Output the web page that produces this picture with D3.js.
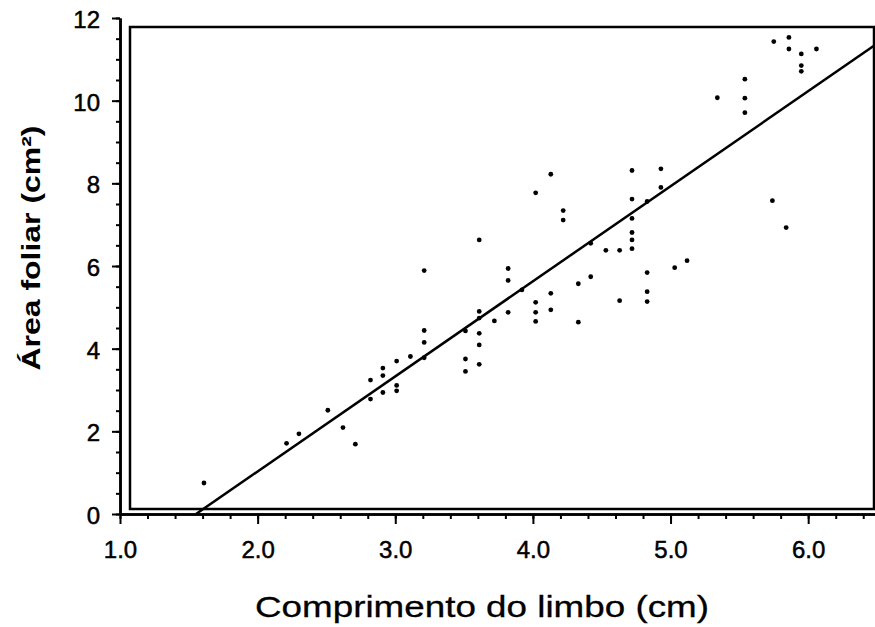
<!DOCTYPE html>
<html>
<head>
<meta charset="utf-8">
<script src="https://cdn.jsdelivr.net/npm/d3@7"></script>
<style>
  body { margin: 0; background: #fff; }
  text { font-family: "Liberation Sans", Arial, Helvetica, sans-serif; fill: #000; }
</style>
</head>
<body>
<div id="chart"></div>
<script>
const w = 875;
const h = 627;

// leaf length (cm) and leaf area (cm2)
const comprimento = [1.61, 2.21, 2.30, 2.51, 2.62, 2.71, 2.82, 2.82, 2.91, 2.91, 2.91, 3.01, 3.01, 3.01, 3.11,
    3.21, 3.21, 3.21, 3.21, 3.51, 3.51, 3.51, 3.61, 3.61, 3.61, 3.61, 3.61, 3.61, 3.72, 3.82, 3.82, 3.82,
    3.92, 4.02, 4.02, 4.02, 4.02, 4.13, 4.13, 4.13, 4.22, 4.22, 4.33, 4.33, 4.42, 4.42, 4.53, 4.63, 4.63,
    4.72, 4.72, 4.72, 4.72, 4.72, 4.72, 4.83, 4.83, 4.83, 4.83, 4.93, 4.93, 5.03, 5.12,
    5.34, 5.54, 5.54, 5.54, 5.74, 5.84, 5.75, 5.86, 5.86, 5.95, 5.95, 5.95, 6.06];
const area = [0.75, 1.71, 1.94, 2.51, 2.09, 1.69, 3.24, 2.78, 3.53, 3.35, 2.94, 3.70, 3.11, 2.98, 3.81,
    5.89, 4.44, 4.15, 3.78, 4.43, 3.75, 3.45, 6.63, 4.90, 4.74, 4.37, 4.09, 3.62, 4.67, 5.94, 5.65, 4.88,
    5.42, 7.77, 5.12, 4.88, 4.66, 8.22, 5.34, 4.94, 7.34, 7.11, 5.57, 4.64, 6.55, 5.74, 6.38, 6.38, 5.16,
    8.31, 7.62, 7.15, 6.81, 6.63, 6.42, 7.56, 5.84, 5.38, 5.14, 8.35, 7.90, 5.96, 6.13,
    10.07, 10.52, 10.06, 9.71, 7.58, 6.93, 11.43, 11.53, 11.25, 11.13, 10.85, 10.71, 11.25];

// fitted line: area = slope * comprimento + intercept
const slope = 2.30;
const intercept = -3.57;

const xTicks = [1, 2, 3, 4, 5, 6];
const yTicks = [0, 2, 4, 6, 8, 10, 12];

const pts = comprimento.map((c, i) => ({ x: c, y: area[i] }));

let svg = d3.select("#chart")
    .append("svg")
    .attr("width", w)
    .attr("height", h);

const xScale = d3.scaleLinear()
    .domain([1, 6.5])
    .range([120, 877]);

const yScale = d3.scaleLinear()
    .domain([0, 12])
    .range([514, 18]);

// inner frame
svg.append("rect")
    .attr("x", 130)
    .attr("y", 27)
    .attr("width", 744)
    .attr("height", 482)
    .attr("fill", "none")
    .attr("stroke", "#000")
    .attr("stroke-width", 2.5);

// minor ticks
svg.append("g")
    .attr("class", "axis")
    .attr("transform", "translate(0," + yScale(0) + ")")
    .call(d3.axisBottom(xScale).tickValues(d3.range(1, 6.5, 0.2)).tickSize(5).tickSizeOuter(0).tickFormat(""));

svg.append("g")
    .attr("class", "axis")
    .attr("transform", "translate(" + xScale(1) + ",0)")
    .call(d3.axisLeft(yScale).tickValues(d3.range(0, 12.01, 0.5)).tickSize(4).tickSizeOuter(0).tickFormat(""));

// major ticks with labels
const xAxis = svg.append("g")
    .attr("class", "axis")
    .attr("transform", "translate(0," + yScale(0) + ")")
    .call(d3.axisBottom(xScale).tickValues(xTicks).tickSize(10).tickSizeOuter(0).tickPadding(17).tickFormat(d3.format(".1f")));

const yAxis = svg.append("g")
    .attr("class", "axis")
    .attr("transform", "translate(" + xScale(1) + ",0)")
    .call(d3.axisLeft(yScale).tickValues(yTicks).tickSize(8).tickSizeOuter(0).tickPadding(12));

svg.selectAll(".axis path").attr("stroke", "#000").attr("stroke-width", 2.5);
svg.selectAll(".axis line").attr("stroke", "#000").attr("stroke-width", 2);
svg.selectAll(".axis text")
    .attr("font-size", 24)
    .attr("font-family", "'Liberation Sans', Arial, sans-serif")
    .attr("fill", "#000")
    .attr("stroke", "#000")
    .attr("stroke-width", 0.5);
yAxis.selectAll("text").attr("dy", "0.4em");

// regression line
const x0 = -intercept / slope;
const x1 = xScale.domain()[1];
svg.append("line")
    .attr("x1", xScale(x0))
    .attr("y1", yScale(0))
    .attr("x2", xScale(x1))
    .attr("y2", yScale(slope * x1 + intercept))
    .attr("stroke", "#000")
    .attr("stroke-width", 2.5);

// points
svg.selectAll(".pt")
    .data(pts)
    .enter().append("circle")
    .attr("class", "pt")
    .attr("cx", d => xScale(d.x))
    .attr("cy", d => yScale(d.y))
    .attr("r", 2.4)
    .attr("fill", "#000");

// axis titles
svg.append("text")
    .attr("x", 482)
    .attr("y", 617)
    .attr("text-anchor", "middle")
    .attr("font-size", 30)
    .attr("textLength", 454)
    .attr("lengthAdjust", "spacingAndGlyphs")
    .attr("stroke", "#000")
    .attr("stroke-width", 0.3)
    .text("Comprimento do limbo (cm)");

svg.append("text")
    .attr("transform", "translate(40,248) rotate(-90)")
    .attr("text-anchor", "middle")
    .attr("font-size", 25)
    .attr("font-weight", "bold")
    .attr("textLength", 245)
    .attr("lengthAdjust", "spacingAndGlyphs")
    .text("Área foliar (cm²)");
</script>
</body>
</html>
